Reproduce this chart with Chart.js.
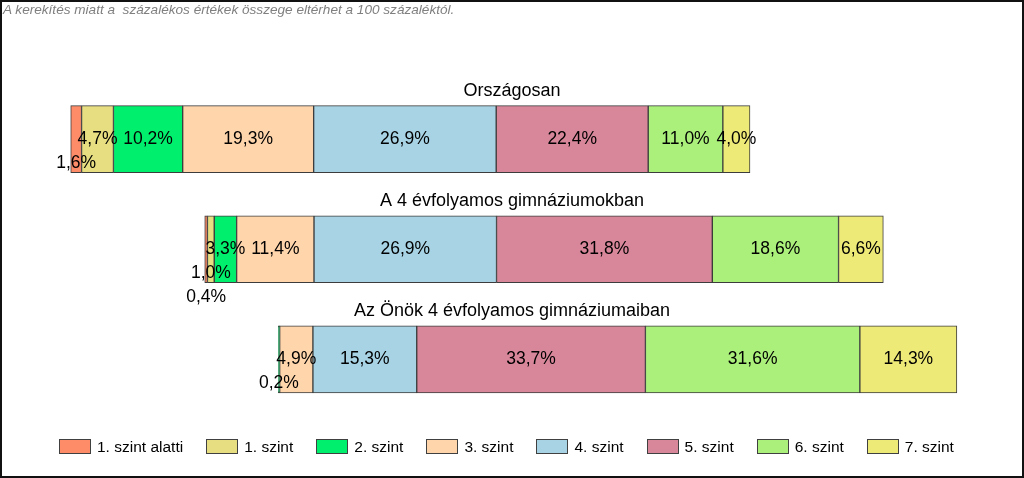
<!DOCTYPE html>
<html lang="hu">
<head>
<meta charset="utf-8">
<title>Szintek megoszlása</title>
<script src="https://cdn.jsdelivr.net/npm/chart.js@4.4.1/dist/chart.umd.min.js"></script>
<style>
    html, body { margin: 0; padding: 0; background: #fff; }
    #frame {
        position: relative;
        width: 1024px;
        height: 478px;
        overflow: hidden;
        font-family: "Liberation Sans", Arial, sans-serif;
    }
    #chart { position: absolute; left: 0; top: 0; }
    #border {
        position: absolute; left: 0; top: 0;
        width: 1024px; height: 478px;
        box-sizing: border-box;
        border: 2px solid #111;
        pointer-events: none;
    }
    #note {
        position: absolute; left: 3px; top: 2px;
        font-size: 13.6px; font-style: italic; color: #808080;
        white-space: pre;
    }
    #legend {
        position: absolute; left: 59px; top: 437px;
        display: flex;
        white-space: nowrap;
    }
    .legend-item {
        display: flex;
        align-items: center;
        margin-right: 23px;
        font-size: 15.5px;
        line-height: 19px;
        color: #000;
    }
    .legend-box {
        width: 30px; height: 13px;
        border: 1px solid #404040;
        margin-right: 6px;
        flex: none;
    }
</style>
</head>
<body>
<div id="frame">
    <canvas id="chart" width="1024" height="478"></canvas>
    <div id="note">A kerekítés miatt a  százalékos értékek összege eltérhet a 100 százaléktól.</div>
    <div id="legend"></div>
    <div id="border"></div>
</div>
<script>
// kategóriák (sávok)
const categories = ['Országosan', 'A 4 évfolyamos gimnáziumokban', 'Az Önök 4 évfolyamos gimnáziumaiban'];

// szintek
const levelNames = ['1. szint alatti', '1. szint', '2. szint', '3. szint', '4. szint', '5. szint', '6. szint', '7. szint'];

// százalékos értékek szintenként (sávok sorrendjében)
const belowLevel1 = [1.6, 0.4, 0.0];
const level1 = [4.7, 1.0, 0.0];
const level2 = [10.2, 3.3, 0.2];
const level3 = [19.3, 11.4, 4.9];
const level4 = [26.9, 26.9, 15.3];
const level5 = [22.4, 31.8, 33.7];
const level6 = [11.0, 18.6, 31.6];
const level7 = [4.0, 6.6, 14.3];

// láthatatlan eltolás a sávok elején
const spacer = [10.42, 30.17, 41.01];

const levelValues = [belowLevel1, level1, level2, level3, level4, level5, level6, level7];
const levelColors = ['#FF8C69', '#E6DE80', '#00F06E', '#FFD5AC', '#A7D3E5', '#D8879A', '#ABF07B', '#EEEA78'];

const fontFamily = '"Liberation Sans", Arial, sans-serif';

/**
 * Százalék formázása (tizedesvesszővel)
 */
function formatPercent(v) {
    return v.toFixed(1).replace('.', ',') + '%';
}

/**
 * Jelmagyarázat HTML-ben
 */
function buildLegend() {
    const legend = document.getElementById('legend');
    levelNames.forEach((name, i) => {
        const item = document.createElement('div');
        item.className = 'legend-item';
        const box = document.createElement('span');
        box.className = 'legend-box';
        box.style.background = levelColors[i];
        const text = document.createElement('span');
        text.textContent = name;
        item.appendChild(box);
        item.appendChild(text);
        legend.appendChild(item);
    });
}

// feliratok: kategórianevek a sávok fölött, értékek a szeletekben
const barLabels = {
    id: 'barLabels',
    afterDatasetsDraw(chart) {
        const ctx = chart.ctx;
        const area = chart.chartArea;
        const narrowPx = 15;
        ctx.save();
        ctx.fillStyle = '#000';
        ctx.textAlign = 'center';

        categories.forEach((cat, row) => {
            const bars = levelValues.map((vals, i) => chart.getDatasetMeta(i + 1).data[row]);
            const top = bars[0].y - bars[0].height / 2;

            ctx.font = '18px ' + fontFamily;
            ctx.textBaseline = 'alphabetic';
            ctx.fillText(cat, (area.left + area.right) / 2, top - 9.5);

            ctx.font = '17.5px ' + fontFamily;
            ctx.textBaseline = 'middle';
            const widths = bars.map(b => Math.abs(b.x - b.base));
            levelValues.forEach((vals, i) => {
                const v = vals[row];
                if (!v) return;
                const el = bars[i];
                let drop = 0;
                if (widths[i] < narrowPx) {
                    drop = 1;
                    for (let j = i + 1; j < levelValues.length; j++) {
                        if (levelValues[j][row] && widths[j] < narrowPx) drop++;
                        else break;
                    }
                }
                ctx.fillText(formatPercent(v), (el.x + el.base) / 2, el.y + drop * 24);
            });
        });
        ctx.restore();
    }
};

document.addEventListener('DOMContentLoaded', () => {
    buildLegend();

    const datasets = [{
        label: '',
        data: spacer,
        backgroundColor: 'rgba(0,0,0,0)',
        borderWidth: 0,
        barThickness: 67
    }];
    levelValues.forEach((vals, i) => {
        datasets.push({
            label: levelNames[i],
            data: vals,
            backgroundColor: levelColors[i],
            borderColor: '#3C3C3C',
            borderWidth: 1,
            borderSkipped: false,
            barThickness: 67
        });
    });

    new Chart(document.getElementById('chart'), {
        type: 'bar',
        data: { labels: categories, datasets: datasets },
        options: {
            indexAxis: 'y',
            responsive: false,
            animation: false,
            devicePixelRatio: 1,
            layout: { padding: { top: 84, bottom: 63.5, left: 0, right: 0 } },
            scales: {
                x: { stacked: true, display: false, min: 0, max: 150.9 },
                y: { stacked: true, display: false }
            },
            plugins: {
                legend: { display: false },
                tooltip: { enabled: false }
            }
        },
        plugins: [barLabels]
    });
});
</script>
</body>
</html>
